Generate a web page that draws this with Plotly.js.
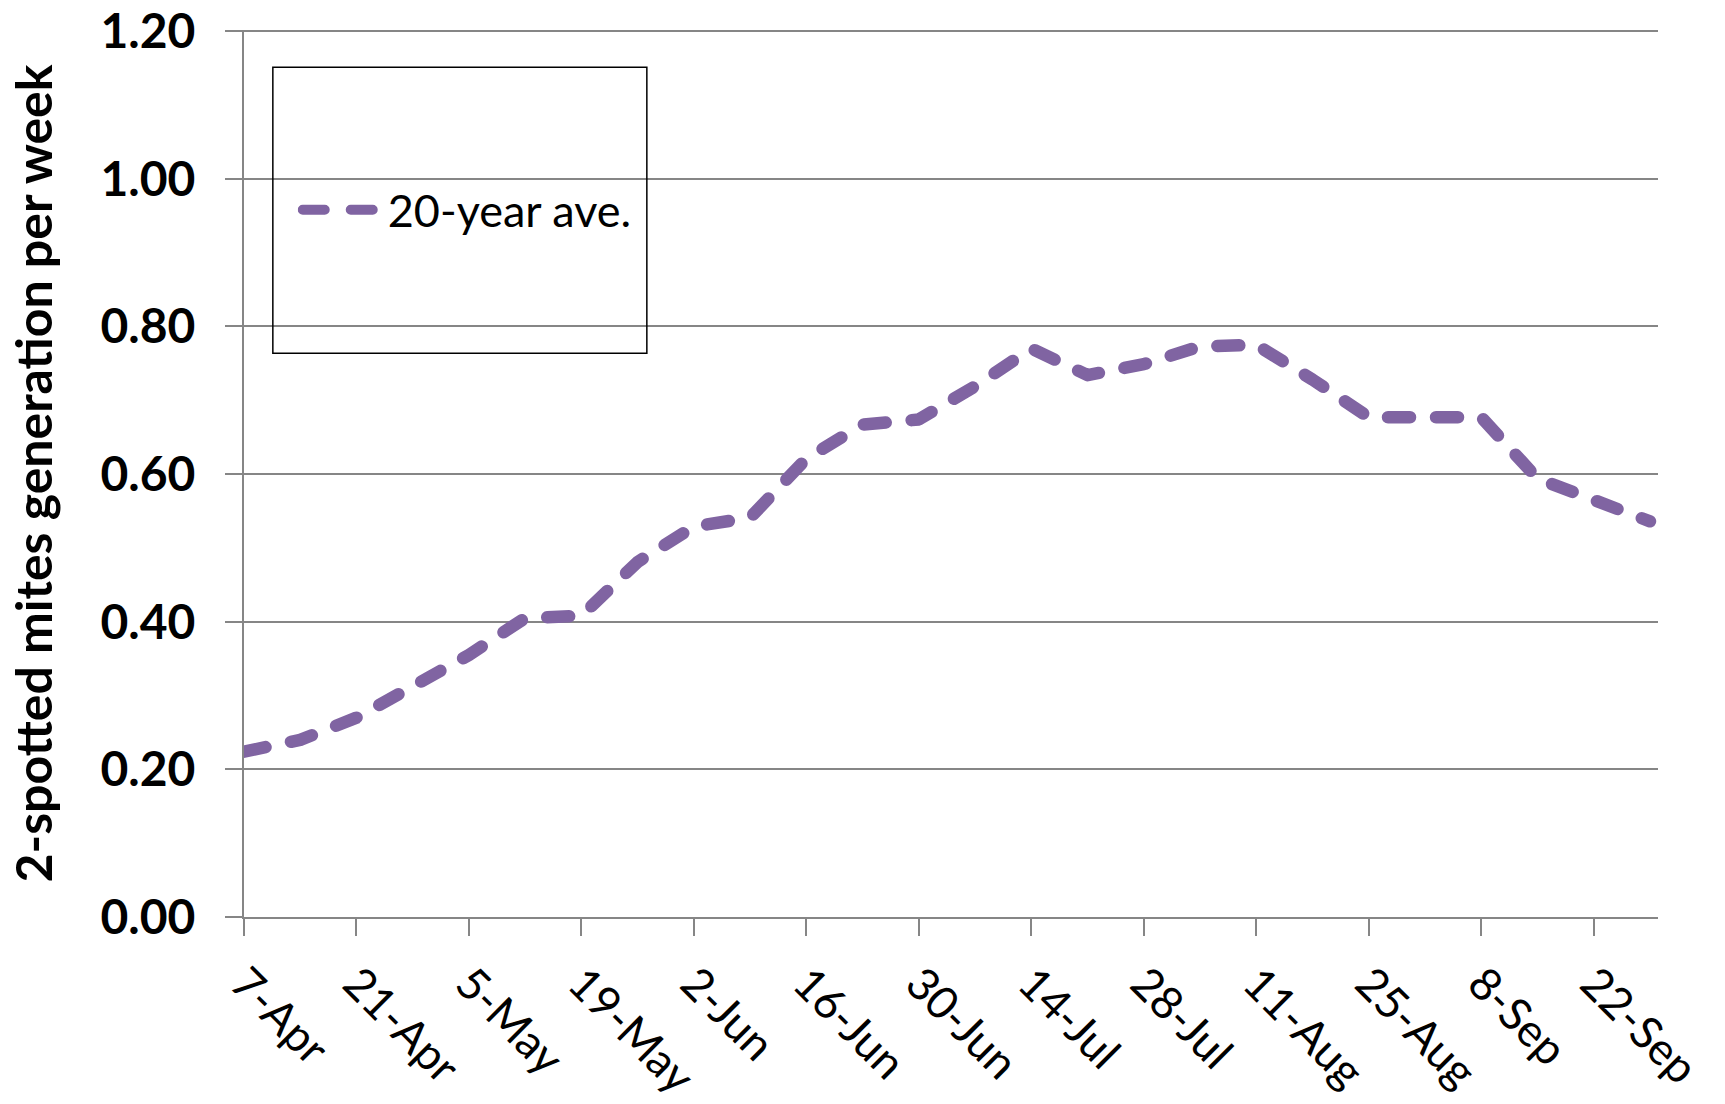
<!DOCTYPE html>
<html>
<head>
<meta charset="utf-8">
<script src="https://cdn.plot.ly/plotly-3.0.1.min.js"></script>
<style>
  html, body { margin: 0; padding: 0; background: #ffffff; }
  #chart { width: 1725px; height: 1104px; }
  .scatterlayer path.js-line, .legend path.js-line { stroke-linecap: round; stroke-linejoin: round; }
</style>
</head>
<body>
<div id="chart"></div>
<script>
// Weekly dates (a generic year is used for the 20-year average)
var weekDates = [
  '2013-04-07', '2013-04-14', '2013-04-21', '2013-04-28',
  '2013-05-05', '2013-05-12', '2013-05-19', '2013-05-26',
  '2013-06-02', '2013-06-09', '2013-06-16', '2013-06-23', '2013-06-30',
  '2013-07-07', '2013-07-14', '2013-07-21', '2013-07-28',
  '2013-08-04', '2013-08-11', '2013-08-18', '2013-08-25',
  '2013-09-01', '2013-09-08', '2013-09-15', '2013-09-22', '2013-09-29'
];
// 2-spotted mites generations per week, 20-year average
var avg20 = [
  0.224, 0.240, 0.270, 0.311,
  0.355, 0.405, 0.408, 0.481,
  0.529, 0.541, 0.621, 0.667, 0.674,
  0.719, 0.770, 0.734, 0.749,
  0.773, 0.775, 0.728, 0.677,
  0.677, 0.677, 0.594, 0.567, 0.536
];
var seriesName = '20-year ave.';
var yTitle = '2-spotted mites generation per week';
var yTickVals = [0, 0.2, 0.4, 0.6, 0.8, 1.0, 1.2];
var yTickText = ['0.00', '0.20', '0.40', '0.60', '0.80', '1.00', '1.20'];
var xRange = ['2013-04-07', '2013-09-30'];
var yRange = [0, 1.2016];

var gridColor = '#868686';
var lineColor = '#8064A2';

var trace = {
  type: 'scatter',
  mode: 'lines',
  x: weekDates,
  y: avg20,
  name: seriesName,
  line: { color: lineColor, width: 12.5, dash: '22px,26px' },
  hoverinfo: 'x+y'
};

var layout = {
  width: 1725,
  height: 1104,
  paper_bgcolor: '#ffffff',
  plot_bgcolor: '#ffffff',
  margin: { l: 244, r: 67, t: 30, b: 187, pad: 0 },
  showlegend: true,
  legend: {
    x: 0.038, y: 0.797, xanchor: 'left', yanchor: 'middle',
    bgcolor: 'rgba(0,0,0,0)', borderwidth: 0,
    itemwidth: 80,
    font: { family: 'Lato, sans-serif', size: 45, color: '#000000' }
  },
  shapes: [{
    type: 'rect', xref: 'paper', yref: 'paper',
    x0: 0.0204, x1: 0.2849, y0: 0.6355, y1: 0.958,
    line: { color: '#000000', width: 1.5 }, fillcolor: 'rgba(0,0,0,0)'
  }],
  xaxis: {
    type: 'date',
    range: xRange,
    tick0: '2013-04-07',
    dtick: 14 * 86400000,
    tickformat: '%-d-%b',
    tickangle: 45,
    ticks: 'outside', ticklen: 17, tickwidth: 2, tickcolor: gridColor,
    showline: true, linecolor: gridColor, linewidth: 2,
    showgrid: false, zeroline: false,
    ticklabelstandoff: 3,
    tickfont: { family: 'Lato, sans-serif', size: 45, color: '#000000' }
  },
  yaxis: {
    range: yRange,
    tickmode: 'array',
    tickvals: yTickVals,
    ticktext: yTickText,
    ticks: 'outside', ticklen: 17, tickwidth: 2, tickcolor: gridColor,
    showline: true, linecolor: gridColor, linewidth: 2,
    showgrid: true, gridcolor: gridColor, gridwidth: 2,
    zeroline: false,
    ticklabelstandoff: 20,
    ticklabeloverflow: 'allow',
    tickfont: { family: 'Lato, sans-serif', size: 48, color: '#000000', weight: 'bold' },
    title: {
      text: yTitle,
      standoff: 32,
      font: { family: 'Lato, sans-serif', size: 50, color: '#000000', weight: 'bold' }
    }
  }
};

Plotly.newPlot('chart', [trace], layout, { staticPlot: true, displayModeBar: false });
</script>
</body>
</html>
